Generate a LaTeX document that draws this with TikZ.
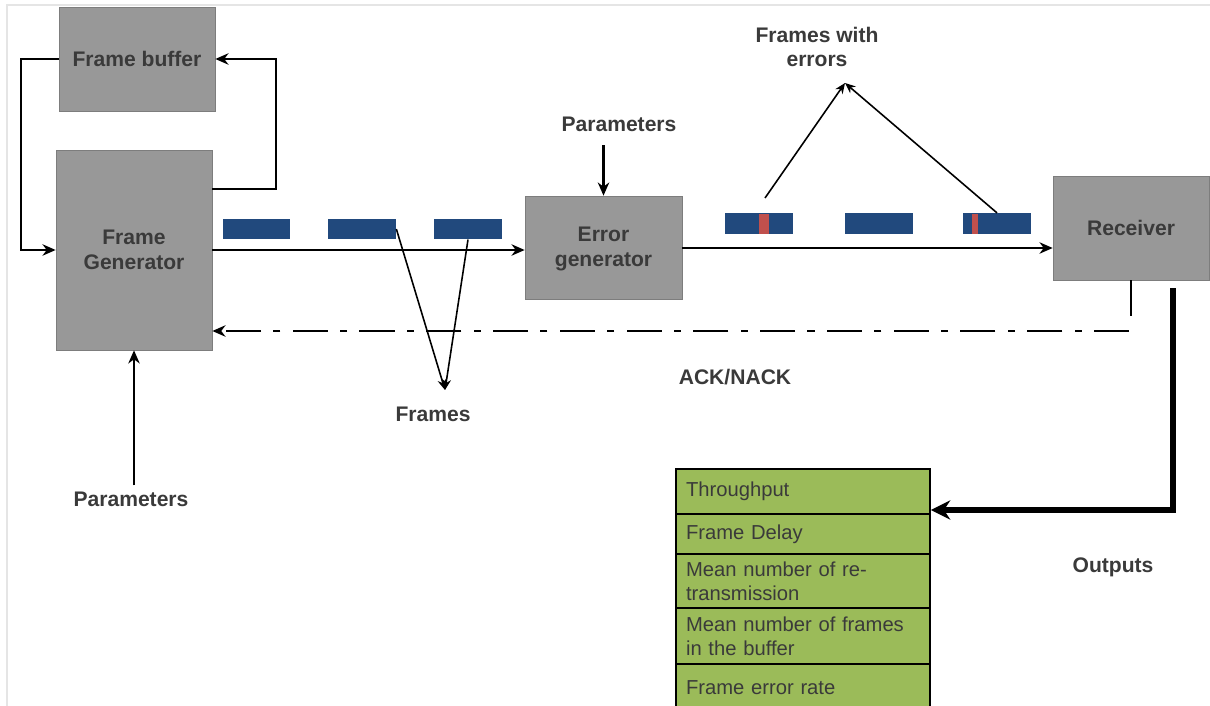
\documentclass[tikz,border=0pt]{standalone}
\usepackage{fontspec}
\setmainfont{Liberation Sans}
\usetikzlibrary{arrows.meta}

\definecolor{boxgray}{RGB}{152,152,152}
\definecolor{boxline}{RGB}{125,125,125}
\definecolor{frameblue}{RGB}{33,73,125}
\definecolor{errred}{RGB}{192,80,77}
\definecolor{outgreen}{RGB}{155,187,89}
\definecolor{txtgray}{RGB}{58,58,58}

\tikzset{
  blk/.style={draw=boxline, fill=boxgray, text=txtgray, align=center, inner sep=0pt,
    font=\bfseries\fontsize{12}{14.5}\selectfont},
  lbl/.style={text=txtgray, align=center, font=\bfseries\fontsize{12}{14}\selectfont},
  pkt/.style={fill=frameblue, minimum width=1.36cm, minimum height=0.41cm, inner sep=0pt},
  outrow/.style={draw=black, line width=1.1pt, fill=outgreen, text=txtgray, inner xsep=0.2cm,
    inner ysep=0pt, text width=4.68cm, align=left, minimum width=5.08cm,
    font=\fontsize{11.5}{13.6}\selectfont},
  arr/.style={-{Stealth[length=7.5pt,width=6.5pt]}, line width=1.5pt},
  thin/.style={-{Stealth[length=6pt,width=5pt]}, line width=0.9pt},
}

\begin{document}
\begin{tikzpicture}[x=0.02cm, y=-0.02cm]
   \clip (0,0) rectangle (1210,706);
   \draw[black!10, line width=0.8pt] (7,706) -- (7,5) -- (1210,5);

   % blocks
   \node[blk, minimum width=3.12cm, minimum height=2.08cm] (fbuf) at (137,59) {Frame buffer};
   \node[blk, minimum width=3.12cm, minimum height=4cm] (fgen) at (134,250) {Frame\\Generator};
   \node[blk, minimum width=3.14cm, minimum height=2.06cm] (egen) at (603.5,247.5) {\strut Error\\generator};
   \node[blk, minimum width=3.12cm, minimum height=2.08cm] (recv) at (1131,228) {Receiver};

   % labels
   \node[lbl] (ptop) at (619,124) {Parameters};
   \node[lbl] (pbot) at (131,499) {Parameters};
   \node[lbl] (frm) at (433,414) {Frames};
   \node[lbl] (ferr) at (817,47) {Frames with\\errors};
   \node[lbl] (ack) at (735,377) {ACK/NACK};
   \node[lbl] (outl) at (1113,567) {Outputs};

   % frames on the link
   \node[pkt] (fr1) at (256.5,229) {};
   \node[pkt] (fr2) at (362,229) {};
   \node[pkt] (fr3) at (468,229) {};
   \node[pkt] (er1) at (759,223.5) {};
   \node[pkt] (er2) at (879,223.5) {};
   \node[pkt] (er3) at (997,223.5) {};
   \fill[errred] (759,213.5) rectangle (769,233.5);
   \fill[errred] (972,213.5) rectangle (978,233.5);

   % feedback loop via the buffer
   \draw[arr] (fbuf.west) -- (21,59) |- (fgen.west);
   \draw[arr] (fgen.east |- 0,189) -| (276,59) -- (fbuf.east);

   % main link
   \draw[arr] (fgen.east |- 0,250) -- (egen.west |- 0,250);
   \draw[arr] (egen.east |- 0,248) -- (recv.west |- 0,248);
   \draw[arr] (egen.north |- 0,145) -- (egen.north);
   \draw[arr] (pbot.north -| fgen.south) -- (fgen.south);

   % pointers
   \coordinate (fpt) at (445,390);
   \draw[thin] (fr2.east) -- (fpt);
   \draw[thin] (fr3.south) -- (fpt);
   \coordinate (ept) at (845,83);
   \draw[thin] (765,198) -- (ept);
   \draw[thin] (er3.north) -- (ept);

   % ack / nack
   \draw[line width=1.5pt] (recv.south) -- (1131,316);
   \draw[-{Stealth[length=7.5pt,width=6.5pt]}, line width=1.6pt,
     dash pattern=on 20pt off 7pt on 4pt off 7pt] (1129,331) -- (fgen.east |- 0,331);

   % outputs
   \node[outrow, minimum height=0.9cm] (o1) at (803,491.5) {Throughput};
   \node[outrow, minimum height=0.8cm] (o2) at (803,534) {Frame Delay};
   \node[outrow, minimum height=1.08cm] (o3) at (803,581) {Mean number of re-\\transmission};
   \node[outrow, minimum height=1.12cm] (o4) at (803,636) {Mean number of frames\\in the buffer};
   \node[outrow, minimum height=0.96cm] (o5) at (803,688) {Frame error rate};

   \coordinate (otop) at (1173,288);
   \draw[-{Stealth[length=11pt,width=11pt]}, line width=3.8pt] (otop) |- (o1.east |- 0,510);
\end{tikzpicture}
\end{document}
